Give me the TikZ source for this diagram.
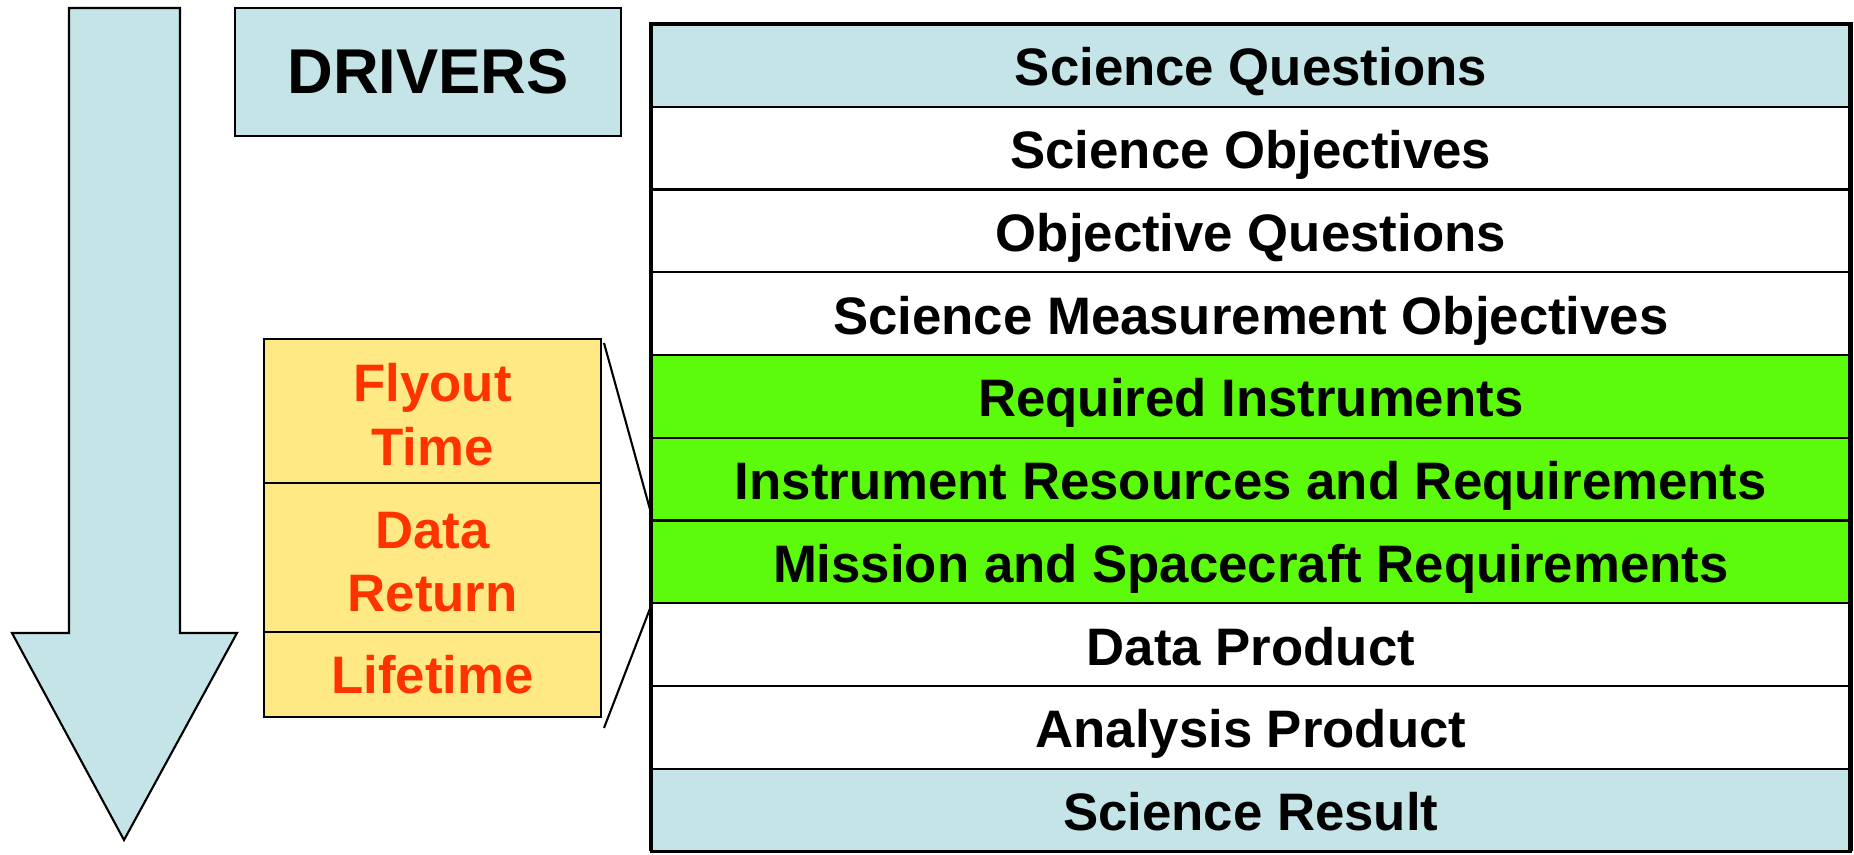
\documentclass[tikz,border=0pt]{standalone}
\usepackage{fontspec}
\setmainfont{Liberation Sans}
\usetikzlibrary{positioning}
\definecolor{hellblau}{HTML}{C5E4E8}
\definecolor{gelb}{HTML}{FFE984}
\definecolor{gruen}{HTML}{5CFB0B}
\definecolor{rot}{HTML}{FF3300}
\newcommand\hoch{\rule{0pt}{13pt}}

\begin{document}
\begin{tikzpicture}[x={(0.01cm,0)},y={(0,-0.01cm)},
  zeile/.style={draw,line width=.6pt,outer sep=0pt,inner sep=0pt,minimum width=11.99cm,minimum height=.827cm,text height=11.7pt,text depth=0pt,font=\bfseries\fontsize{15}{18}\selectfont},
  feld/.style={draw,line width=.6pt,outer sep=0pt,inner sep=0pt,fill=gelb,text=rot,minimum width=3.37cm,align=center,font=\bfseries\fontsize{15}{18}\selectfont}]
  \useasboundingbox (0,0) rectangle (1854,855);
  % Pfeil
  \draw[fill=hellblau,line width=.6pt] (69,8)--(180,8)--(180,633)--(237,633)--(124,840)--(12,633)--(69,633)--cycle;
  % Kasten oben
  \node[draw,fill=hellblau,line width=.6pt,minimum width=3.85cm,minimum height=1.28cm,font=\bfseries\fontsize{18}{22}\selectfont] (drivers) at (428,72) {DRIVERS};
  % Tabelle
  \node[zeile,fill=hellblau,anchor=north west] (z1) at (651,24) {Science Questions};
  \foreach \n/\vor/\txt/\farbe in {2/1/Science Objectives/white,3/2/Objective Questions/white,
    4/3/Science Measurement Objectives/white,5/4/Required Instruments/gruen,
    6/5/Instrument Resources and Requirements/gruen,7/6/Mission and Spacecraft Requirements/gruen,
    8/7/Data Product/white,9/8/Analysis Product/white,10/9/Science Result/hellblau}
    \node[zeile,fill=\farbe,below=0pt of z\vor] (z\n) {\txt};
  \draw[line width=1.4pt] (z10.south west)--(z1.north west)--(z1.north east)--(z10.south east);
  % Treiber
  \node[feld,anchor=north west,minimum height=1.44cm] (f1) at (264,339) {\hoch Flyout\\Time};
  \node[feld,below=0pt of f1,minimum height=1.49cm] (f2) {\hoch Data\\Return};
  \node[feld,below=0pt of f2,minimum height=.85cm] (f3) {Lifetime};
  % Zoomlinien
  \coordinate (a1) at (604,343);
  \coordinate (a2) at (604,728);
  \coordinate (b1) at (651,513);
  \coordinate (b2) at (651,606);
  \draw[line width=.6pt] (a1)--(b1) (a2)--(b2);
\end{tikzpicture}
\end{document}
